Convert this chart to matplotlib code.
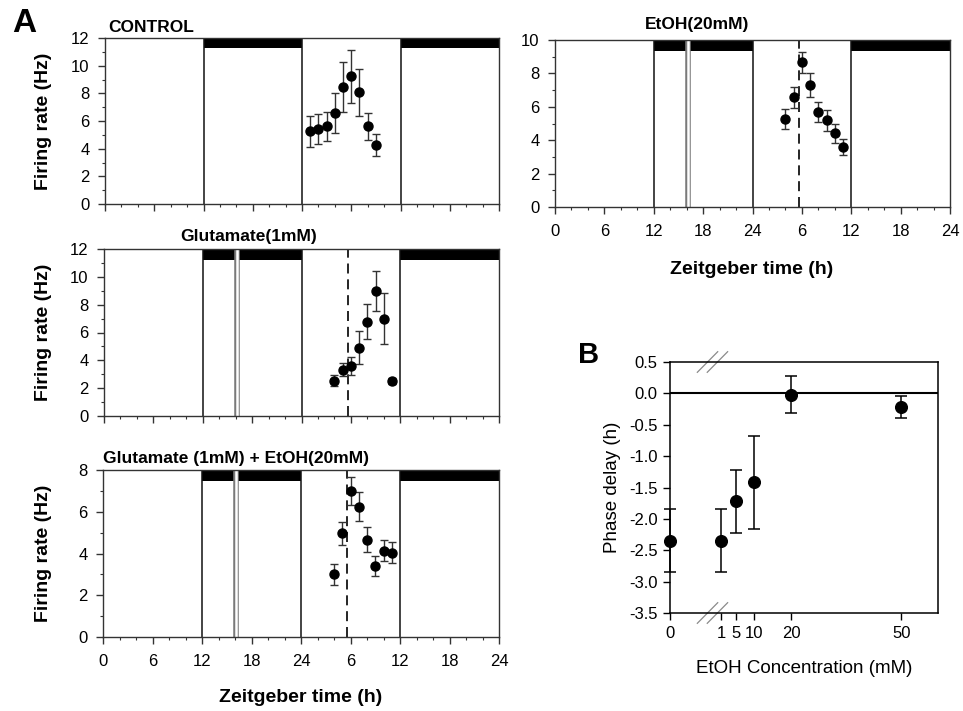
import matplotlib.pyplot as plt
from matplotlib.ticker import MultipleLocator

plt.rcParams['font.family'] = ['Liberation Sans', 'DejaVu Sans']
plt.rcParams['axes.unicode_minus'] = False

# firing rate recordings, hours counted from ZT0 of day 1 (second day = 24..48)
ctrl_zt = [25, 26, 27, 28, 29, 30, 31, 32, 33]
ctrl_rate = [5.25, 5.42, 5.61, 6.58, 8.43, 9.23, 8.07, 5.61, 4.24]
ctrl_err = [1.1, 1.05, 1.05, 1.45, 1.8, 1.9, 1.7, 1.0, 0.8]

etoh_zt = [28, 29, 30, 31, 32, 33, 34, 35]
etoh_rate = [5.28, 6.57, 8.67, 7.31, 5.66, 5.18, 4.42, 3.57]
etoh_err = [0.6, 0.63, 0.64, 0.7, 0.6, 0.6, 0.56, 0.48]

glu_zt = [28, 29, 30, 31, 32, 33, 34, 35]
glu_rate = [2.52, 3.34, 3.58, 4.92, 6.77, 8.98, 7.0, 2.5]
glu_err = [0.4, 0.47, 0.63, 1.17, 1.27, 1.44, 1.83, 0.22]

glu_etoh_zt = [28, 29, 30, 31, 32, 33, 34, 35]
glu_etoh_rate = [3.01, 4.96, 6.99, 6.24, 4.67, 3.42, 4.13, 4.03]
glu_etoh_err = [0.5, 0.56, 0.68, 0.69, 0.58, 0.48, 0.5, 0.5]

dark_phases = [(12, 24), (36, 48)]
light_switch = [12, 24, 36]
drug_zt = 16.15
peak_etoh = 29.67
peak_glu = 29.66
peak_glu_etoh = 29.6
zt_ticks = [0, 6, 12, 18, 24, 30, 36, 42, 48]
zt_labels = ['0', '6', '12', '18', '24', '6', '12', '18', '24']

# phase shifts vs ethanol dose
conc = [0, 1, 5, 10, 20, 50]
delay = [-2.35, -2.35, -1.72, -1.42, -0.02, -0.22]
delay_err = [0.5, 0.5, 0.5, 0.74, 0.3, 0.18]

W, H = 963, 711


def box(l, t, r, b):
    return [l / W, 1 - b / H, (r - l) / W, (b - t) / H]


def zt_panel(ax, zt, rate, err, ymax, ystep, peak=None, treated=False, xlabels=False):
    ax.set_xlim(0, 48)
    ax.set_ylim(0, ymax)
    for start, end in dark_phases:
        ax.axvspan(start, end, ymin=0.937, ymax=1, color='black', lw=0)
    for x in light_switch:
        ax.axvline(x, color='#111111', lw=1.1)
    if treated:
        ax.axvline(drug_zt, color='#7a7a7a', lw=4.0)
        ax.axvline(drug_zt, color='white', lw=1.8)
    if peak is not None:
        ax.axvline(peak, color='black', lw=1.2, ls=(0, (6, 3.5)))
    ax.errorbar(zt, rate, yerr=err, fmt='o', color='black', ms=6.5,
                ecolor='#333333', elinewidth=1, capsize=3.2, capthick=1, zorder=4)
    ax.set_xticks(zt_ticks)
    ax.set_xticklabels(zt_labels if xlabels else [])
    ax.xaxis.set_minor_locator(MultipleLocator(2))
    ax.yaxis.set_major_locator(MultipleLocator(ystep))
    ax.yaxis.set_minor_locator(MultipleLocator(ystep / 2))
    ax.tick_params(which='major', direction='out', length=5, width=1, labelsize=12,
                   color='#333333')
    ax.tick_params(axis='y', which='major', pad=6)
    ax.tick_params(axis='x', which='major', pad=7)
    ax.tick_params(which='minor', direction='out', length=2.5, width=0.8, color='#333333')
    for s in ax.spines.values():
        s.set_color('#333333')
        s.set_linewidth(1)


fig = plt.figure(figsize=(9.63, 7.11), dpi=100)

ax1 = fig.add_axes(box(105, 38, 499, 204))
zt_panel(ax1, ctrl_zt, ctrl_rate, ctrl_err, 12, 2)

ax2 = fig.add_axes(box(555, 40, 950, 207))
zt_panel(ax2, etoh_zt, etoh_rate, etoh_err, 10, 2, peak=peak_etoh, treated=True, xlabels=True)

ax3 = fig.add_axes(box(104, 249, 499, 416))
zt_panel(ax3, glu_zt, glu_rate, glu_err, 12, 2, peak=peak_glu, treated=True)

ax4 = fig.add_axes(box(103, 470, 499, 637))
zt_panel(ax4, glu_etoh_zt, glu_etoh_rate, glu_etoh_err, 8, 2, peak=peak_glu_etoh,
         treated=True, xlabels=True)

# panel titles and labels
fig.text(108 / W, 1 - 27 / H, 'CONTROL', fontsize=12.5, fontweight='bold', va='center')
fig.text(645 / W, 1 - 25 / H, 'EtOH(20mM)', fontsize=12.5, fontweight='bold', va='center')
fig.text(180 / W, 1 - 236 / H, 'Glutamate(1mM)', fontsize=12.5, fontweight='bold', va='center')
fig.text(103 / W, 1 - 458 / H, 'Glutamate (1mM) + EtOH(20mM)', fontsize=12.5,
         fontweight='bold', va='center')

for ax, yc in [(ax1, 121), (ax3, 332), (ax4, 553)]:
    fig.text(43 / W, 1 - yc / H, 'Firing rate (Hz)', fontsize=14, fontweight='bold',
             rotation=90, ha='center', va='center')
fig.text(752 / W, 1 - 269 / H, 'Zeitgeber time (h)', fontsize=14, fontweight='bold',
         ha='center', va='center')
fig.text(301 / W, 1 - 697 / H, 'Zeitgeber time (h)', fontsize=14, fontweight='bold',
         ha='center', va='center')

fig.text(24 / W, 1 - 24 / H, 'A', fontsize=24, fontweight='bold', ha='center', va='center')
fig.text(589 / W, 1 - 355 / H, 'B', fontsize=21, fontweight='bold', ha='center', va='center')

# panel B: broken x axis, zero dose drawn left of the break
axb = fig.add_axes(box(670, 362, 938, 613))
zero_pos = -13
xpos = [c if c > 0 else zero_pos for c in conc]
axb.set_xlim(zero_pos, 60)
axb.set_ylim(-3.5, 0.5)
axb.axhline(0, color='black', lw=1.5)
eb = axb.errorbar(xpos, delay, yerr=delay_err, fmt='o', color='black', ms=8.4,
                  ecolor='black', elinewidth=1.1, capsize=4, capthick=1.1, zorder=4)
eb.lines[0].set_clip_on(False)
for a in eb.lines[1]:
    a.set_clip_on(False)
for a in eb.lines[2]:
    a.set_clip_on(False)
axb.set_xticks(xpos)
axb.set_xticklabels([str(c) for c in conc])
yt = [-3.5, -3.0, -2.5, -2.0, -1.5, -1.0, -0.5, 0.0, 0.5]
axb.set_yticks(yt)
axb.set_yticklabels(['%.1f' % v for v in yt])
axb.tick_params(direction='out', length=5, width=1, labelsize=12, pad=4)
for s in axb.spines.values():
    s.set_color('black')
    s.set_linewidth(1.1)
for yb in (0, 1):
    for xc in (0.140, 0.177):
        axb.plot([xc - 0.038, xc + 0.038], [yb - 0.041, yb + 0.041], transform=axb.transAxes,
                 color='#8a8a8a', lw=0.9, clip_on=False)
axb.set_xlabel('EtOH Concentration (mM)', fontsize=13.5, labelpad=14)
axb.set_ylabel('Phase delay (h)', fontsize=13.5, labelpad=6)

fig.savefig('out.png', dpi=100)
